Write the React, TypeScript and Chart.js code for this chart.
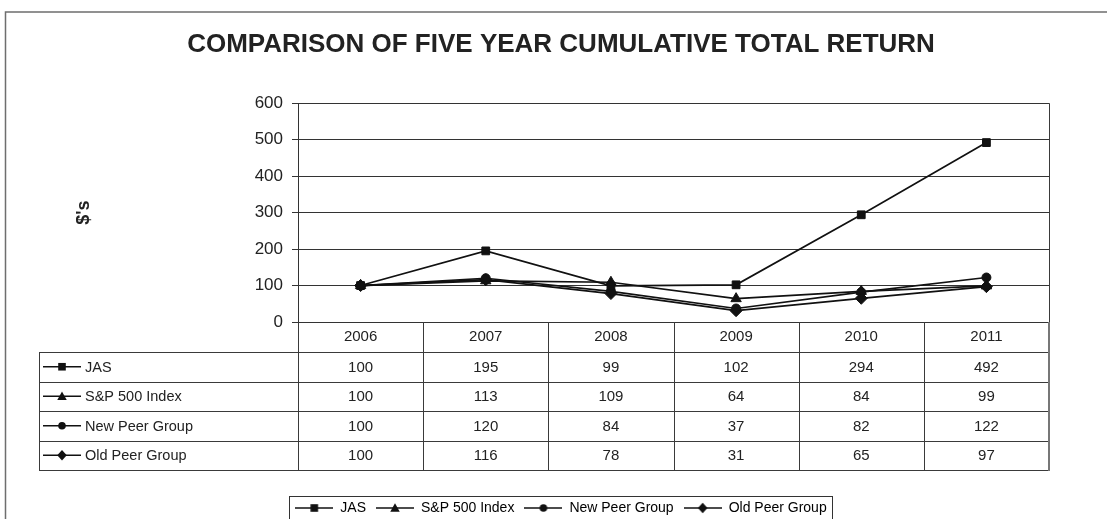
import React, { useEffect, useRef } from 'react';
import { Chart, registerables } from 'chart.js';

Chart.register(...registerables);

const FONT = '"Liberation Sans", Arial, Helvetica, sans-serif';

const TITLE = 'COMPARISON OF FIVE YEAR CUMULATIVE TOTAL RETURN';
const Y_TITLE = "$'s";
const YEARS = ['2006', '2007', '2008', '2009', '2010', '2011'];
const SERIES_NAMES = ['JAS', 'S&P 500 Index', 'New Peer Group', 'Old Peer Group'];
const MARKERS = ['rect', 'triangle', 'circle', 'rectRot'];
const JAS = [100, 195, 99, 102, 294, 492];
const SP500 = [100, 113, 109, 64, 84, 99];
const NEW_PEER = [100, 120, 84, 37, 82, 122];
const OLD_PEER = [100, 116, 78, 31, 65, 97];
const Y_TICKS = [0, 100, 200, 300, 400, 500, 600];

const SERIES_VALUES = [JAS, SP500, NEW_PEER, OLD_PEER];

// layout constants
const HEADER_H = 30;
const ROW_H = 29.5;
const TABLE_LEFT = 39;
const FRAME_X = 5.5;
const FRAME_Y = 12;

function drawMarker(ctx: CanvasRenderingContext2D, style: string, x: number, y: number, s: number) {
  ctx.beginPath();
  switch (style) {
    case 'rect':
      ctx.rect(x - 4 * s, y - 4 * s, 8 * s, 8 * s);
      break;
    case 'triangle':
      ctx.moveTo(x, y - 5 * s);
      ctx.lineTo(x + 5 * s, y + 4 * s);
      ctx.lineTo(x - 5 * s, y + 4 * s);
      ctx.closePath();
      break;
    case 'circle':
      ctx.arc(x, y, 4 * s, 0, Math.PI * 2);
      break;
    default:
      ctx.moveTo(x, y - 5.5 * s);
      ctx.lineTo(x + 5 * s, y);
      ctx.lineTo(x, y + 5.5 * s);
      ctx.lineTo(x - 5 * s, y);
      ctx.closePath();
  }
  ctx.fill();
}

function drawSymbol(ctx: CanvasRenderingContext2D, style: string, cx: number, cy: number, w: number) {
  ctx.save();
  ctx.strokeStyle = '#111';
  ctx.fillStyle = '#111';
  ctx.lineWidth = 1.5;
  ctx.beginPath();
  ctx.moveTo(cx - w / 2, cy);
  ctx.lineTo(cx + w / 2, cy);
  ctx.stroke();
  drawMarker(ctx, style, cx, cy, 0.95);
  ctx.restore();
}

function makeLegendImage(style: string) {
  const c = document.createElement('canvas');
  c.width = 38;
  c.height = 14;
  const cx = c.getContext('2d');
  if (cx) drawSymbol(cx, style, 19, 7, 38);
  return c;
}

const tablePlugin = {
  id: 'tableAndFrame',
  afterDraw(chart: any) {
    const { ctx, chartArea, scales } = chart;
    const xs = scales.x;
    const n = YEARS.length;
    const colW = (chartArea.right - chartArea.left) / n;
    const top = chartArea.bottom;
    const headerBottom = top + HEADER_H;
    const tableBottom = headerBottom + ROW_H * SERIES_NAMES.length;
    const px = (v: number) => Math.round(v) + 0.5;

    ctx.save();
    // outer frame
    ctx.strokeStyle = '#6e6e6e';
    ctx.lineWidth = 1.5;
    ctx.strokeRect(FRAME_X, FRAME_Y, chart.width + 60, chart.height + 60);

    // plot right border
    ctx.strokeStyle = '#3a3a3a';
    ctx.lineWidth = 1;
    ctx.beginPath();
    ctx.moveTo(px(chartArea.right), chartArea.top);
    ctx.lineTo(px(chartArea.right), top);
    ctx.stroke();

    // table verticals
    ctx.beginPath();
    for (let i = 0; i < n; i++) {
      const xv = px(chartArea.left + i * colW);
      ctx.moveTo(xv, top);
      ctx.lineTo(xv, tableBottom);
    }
    ctx.moveTo(px(TABLE_LEFT), headerBottom);
    ctx.lineTo(px(TABLE_LEFT), tableBottom);
    // horizontals
    for (let r = 0; r <= SERIES_NAMES.length; r++) {
      const yv = px(headerBottom + r * ROW_H);
      ctx.moveTo(TABLE_LEFT, yv);
      ctx.lineTo(chartArea.right, yv);
    }
    ctx.stroke();
    ctx.strokeStyle = '#777';
    ctx.lineWidth = 2;
    ctx.beginPath();
    ctx.moveTo(Math.round(chartArea.right), top);
    ctx.lineTo(Math.round(chartArea.right), tableBottom + 1);
    ctx.stroke();

    // table texts
    ctx.fillStyle = '#222';
    ctx.textBaseline = 'middle';
    for (let r = 0; r < SERIES_NAMES.length; r++) {
      const cy = headerBottom + r * ROW_H + ROW_H / 2;
      drawSymbol(ctx, MARKERS[r], TABLE_LEFT + 23, cy, 38);
      ctx.fillStyle = '#222';
      ctx.font = '14.5px ' + FONT;
      ctx.textAlign = 'left';
      ctx.fillText(SERIES_NAMES[r], TABLE_LEFT + 46, cy + 1);
      ctx.font = '15px ' + FONT;
      ctx.textAlign = 'center';
      SERIES_VALUES[r].forEach((v, j) => {
        ctx.fillText(String(v), xs.getPixelForValue(j), cy + 1);
      });
    }

    // legend box
    const hb = chart.legend && chart.legend.legendHitBoxes;
    if (hb && hb.length) {
      const l = hb[0].left - 6;
      const last = hb[hb.length - 1];
      const r = last.left + last.width + 6;
      ctx.strokeStyle = '#333';
      ctx.lineWidth = 1;
      ctx.strokeRect(px(l), px(hb[0].top - 5), Math.round(r - l), 60);
    }
    ctx.restore();
  },
};

export default function App() {
  const ref = useRef<HTMLCanvasElement | null>(null);

  useEffect(() => {
    if (!ref.current) return;
    const legendImages = MARKERS.map((m) => makeLegendImage(m));
    const radii = [5.5, 6, 4.5, 6];
    const chart = new Chart(ref.current, {
      type: 'line',
      data: {
        labels: YEARS,
        datasets: SERIES_NAMES.map((name, i) => ({
          label: name,
          data: SERIES_VALUES[i],
          borderColor: '#111',
          backgroundColor: '#111',
          borderWidth: 1.7,
          pointStyle: MARKERS[i] as any,
          pointRadius: radii[i],
          pointBorderWidth: 1,
          pointBackgroundColor: '#111',
          pointBorderColor: '#111',
          tension: 0,
        })),
      },
      options: {
        animation: false,
        responsive: true,
        maintainAspectRatio: false,
        events: [],
        layout: { padding: { left: 73, right: 58, top: 12, bottom: 15 } },
        plugins: {
          title: {
            display: true,
            text: TITLE,
            color: '#222',
            font: { family: FONT, size: 26, weight: 'bold' },
            padding: { top: 17, bottom: 43 },
          },
          legend: {
            position: 'bottom',
            labels: {
              usePointStyle: true,
              pointStyleWidth: 38,
              padding: 10,
              color: '#222',
              font: { family: FONT, size: 14 },
              generateLabels: () =>
                SERIES_NAMES.map((name, i) => ({
                  text: name,
                  pointStyle: legendImages[i] as any,
                  fillStyle: '#111',
                  strokeStyle: '#111',
                  lineWidth: 0,
                  hidden: false,
                  datasetIndex: i,
                })),
            },
          },
          tooltip: { enabled: false },
        },
        scales: {
          x: {
            offset: true,
            grid: { display: false, drawTicks: false },
            border: { display: false },
            ticks: { padding: 6, color: '#222', font: { family: FONT, size: 15 } },
            afterFit: (s: any) => {
              s.height = 169;
            },
          },
          y: {
            min: Y_TICKS[0],
            max: Y_TICKS[Y_TICKS.length - 1],
            ticks: {
              stepSize: Y_TICKS[1] - Y_TICKS[0],
              padding: 9,
              color: '#222',
              font: { family: FONT, size: 17 },
            },
            grid: { color: '#333', tickLength: 6, lineWidth: 1 },
            border: { color: '#333' },
            title: {
              display: true,
              text: Y_TITLE,
              color: '#222',
              font: { family: FONT, size: 18, weight: 'bold' },
              padding: { top: 0, bottom: 0 },
            },
            afterFit: (s: any) => {
              s.width = 225;
            },
          },
        },
      },
      plugins: [tablePlugin],
    });
    return () => chart.destroy();
  }, []);

  return (
    <div
      style={{
        position: 'absolute',
        left: 0,
        top: 0,
        width: 1107,
        height: 519,
        overflow: 'hidden',
        background: '#fff',
      }}
    >
      <div style={{ position: 'relative', width: 1107, height: 540 }}>
        <canvas ref={ref} />
      </div>
    </div>
  );
}
